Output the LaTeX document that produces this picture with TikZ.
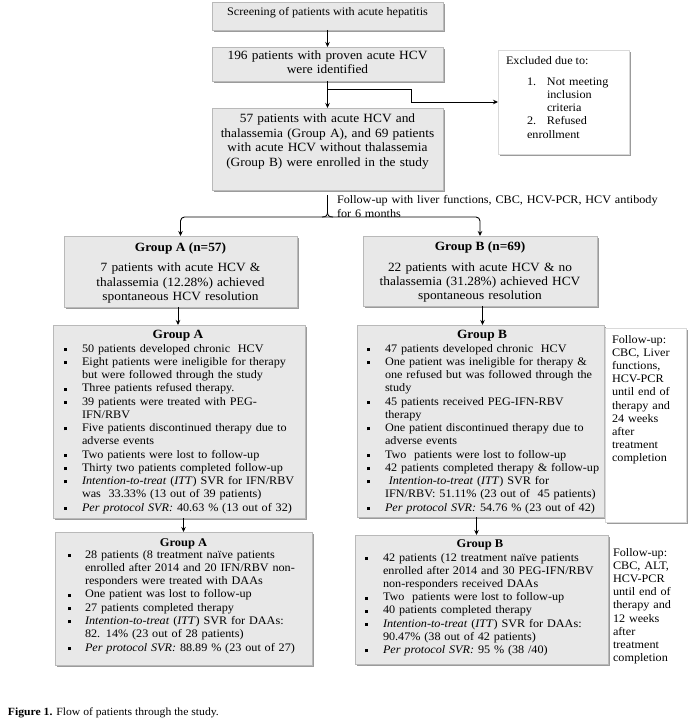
\documentclass[tikz,border=0pt]{standalone}
\usepackage{fontspec}
\setmainfont[FakeStretch=1.06]{Liberation Serif}
\usetikzlibrary{arrows.meta,shadows,calc}
\definecolor{boxfill}{RGB}{232,232,232}
\definecolor{boxline}{RGB}{185,185,185}
\definecolor{shadowc}{RGB}{130,130,130}
\newlength\bhang
\newcommand{\nl}{\hfil\break}
\newcommand{\bfirst}[1]{\noindent\hangindent=\bhang\hangafter=1\makebox[\bhang][l]{\rule[1.1pt]{3pt}{3pt}}#1}
\newcommand{\bitem}[1]{\par\bfirst{#1}}
\newcommand{\nfirst}[2]{\noindent\hangindent=\bhang\hangafter=1\makebox[\bhang][l]{#1}#2}
\newcommand{\nitem}[2]{\par\nfirst{#1}{#2}}
\tikzset{
  gbox/.style={draw=boxline, fill=boxfill, line width=0.5pt, inner sep=0pt, outer sep=0pt, anchor=north west,
    drop shadow={shadow xshift=1.6pt, shadow yshift=-1.6pt, fill=shadowc, opacity=0.8}},
  wbox/.style={gbox, fill=white, draw=gray!30},
  arr/.style={-{Stealth[length=5pt,width=4.5pt]}, line width=0.9pt, black},
  plain/.style={line width=0.9pt, black},
  txt/.style={inner sep=0pt, outer sep=0pt, anchor=base},
  ctxt/.style={inner sep=0pt, outer sep=0pt, anchor=base, align=center, text width=228pt},
  lst/.style={inner sep=0pt, outer sep=0pt, anchor=base west, text width=250pt},
  body/.style={font=\fontsize{11.5}{13.25}\selectfont},
  big/.style={font=\fontsize{12.6}{14.5}\selectfont},
}
\begin{document}
\begin{tikzpicture}[x=1pt,y=-1pt]
\useasboundingbox (0,0) rectangle (690,725);
% boxes
\node[gbox, minimum width=231pt, minimum height=28pt] (scr) at (212,2) {};
\node[gbox, minimum width=231pt, minimum height=34pt] (n196) at (212,47) {};
\node[wbox, minimum width=131pt, minimum height=104pt] (excl) at (498,50) {};
\node[gbox, minimum width=231pt, minimum height=82pt] (enr) at (212,108) {};
\node[gbox, minimum width=233pt, minimum height=71pt] (gA) at (64,236) {};
\node[gbox, minimum width=234pt, minimum height=70pt] (gB) at (363,236) {};
\node[gbox, minimum width=252pt, minimum height=193pt] (dA) at (53,325) {};
\node[gbox, minimum width=247pt, minimum height=192pt] (dB) at (357,325) {};
\node[wbox, minimum width=81pt, minimum height=194pt] (nB) at (605,328) {};
\node[gbox, minimum width=257pt, minimum height=133pt] (bA) at (55,532) {};
\node[gbox, minimum width=253pt, minimum height=129pt] (bB) at (355,535) {};

% top texts
\node[txt, body] (tscr) at (327.5,16) {Screening of patients with acute hepatitis};
\node[ctxt, font=\fontsize{12.6}{14}\selectfont] (t196) at (327.5,59.5) {196 patients with proven acute HCV\\were identified};
\node[ctxt, font=\fontsize{12.6}{14.6}\selectfont] (tenr) at (327.5,122.5) {57 patients with acute HCV and\\thalassemia (Group A), and 69 patients\\with acute HCV without thalassemia\\(Group B) were enrolled in the study};
\node[txt, body, anchor=base west] (texh) at (506,64.5) {Excluded due to:};
\node[lst, body, text width=100pt] (texl) at (527,85) {\setlength\bhang{20pt}%
\nfirst{1.}{Not meeting\nl inclusion\nl criteria}%
\nitem{2.}{Refused\nl enrollment}};
\node[lst, body, text width=340pt, font=\fontsize{11.5}{14}\selectfont] (tfu) at (337,203.5) {Follow-up with liver functions, CBC, HCV-PCR, HCV antibody\\for 6 months};

% group boxes
\node[txt, big] (tgAh) at (180.5,251) {\textbf{Group A (n=57)}};
\node[ctxt, big] (tgA) at (180.5,271.5) {7 patients with acute HCV \&\\thalassemia (12.28\%) achieved\\spontaneous HCV resolution};
\node[txt, big] (tgBh) at (480,250) {\textbf{Group B (n=69)}};
\node[ctxt, font=\fontsize{12.6}{14}\selectfont] (tgB) at (480,271) {22 patients with acute HCV \& no\\thalassemia (31.28\%) achieved HCV\\spontaneous resolution};

% detail A
\node[txt, big] (tdAh) at (178,338.5) {\textbf{Group A}};
\node[lst, body] (tdA) at (64,352) {\setlength\bhang{18pt}%
\bfirst{50 patients developed chronic~ HCV}%
\bitem{Eight patients were ineligible for therapy\nl but were followed through the study}%
\bitem{Three patients refused therapy.}%
\bitem{39 patients were treated with PEG-\nl IFN/RBV}%
\bitem{Five patients discontinued therapy due to\nl adverse events}%
\bitem{Two patients were lost to follow-up}%
\bitem{Thirty two patients completed follow-up}%
\bitem{\textit{Intention-to-treat} (\textit{ITT}) SVR for IFN/RBV\nl was~ 33.33\% (13 out of 39 patients)}%
\bitem{\textit{Per protocol SVR:} 40.63 \% (13 out of 32)}};

% detail B
\node[txt, big] (tdBh) at (482,338.5) {\textbf{Group B}};
\node[lst, body] (tdB) at (367,352) {\setlength\bhang{18pt}%
\bfirst{47 patients developed chronic~ HCV}%
\bitem{One patient was ineligible for therapy \&\nl one refused but was followed through the\nl study}%
\bitem{45 patients received PEG-IFN-RBV\nl therapy}%
\bitem{One patient discontinued therapy due to\nl adverse events}%
\bitem{Two~ patients were lost to follow-up}%
\bitem{42 patients completed therapy \& follow-up}%
\bitem{~\textit{Intention-to-treat} (\textit{ITT}) SVR for\nl IFN/RBV: 51.11\% (23 out of~ 45 patients)}%
\bitem{\textit{Per protocol SVR:} 54.76 \% (23 out of 42)}};
\node[lst, body, text width=75pt, font=\fontsize{11.5}{13.2}\selectfont] (tnB) at (612,343) {Follow-up:\\ CBC, Liver\\ functions,\\ HCV-PCR\\ until end of\\ therapy and\\ 24 weeks\\ after\\ treatment\\ completion};

% bottom A
\node[txt, font=\bfseries\fontsize{11.8}{13}\selectfont] (tbAh) at (183.5,546.5) {Group A};
\node[lst, font=\fontsize{11.5}{13.3}\selectfont] (tbA) at (68,558) {\setlength\bhang{17pt}%
\bfirst{28 patients (8 treatment naïve patients\nl enrolled after 2014 and 20 IFN/RBV non-\nl responders were treated with DAAs}%
\bitem{One patient was lost to follow-up}%
\bitem{27 patients completed therapy}%
\bitem{\textit{Intention-to-treat} (\textit{ITT}) SVR for DAAs:\nl 82. 14\% (23 out of 28 patients)}%
\bitem{\textit{Per protocol SVR:} 88.89 \% (23 out of 27)}};

% bottom B
\node[txt, font=\bfseries\fontsize{11.8}{13}\selectfont] (tbBh) at (480,547) {Group B};
\node[lst, font=\fontsize{11.5}{13.2}\selectfont] (tbB) at (365,561) {\setlength\bhang{18pt}%
\bfirst{42 patients (12 treatment naïve patients\nl enrolled after 2014 and 30 PEG-IFN/RBV\nl non-responders received DAAs}%
\bitem{Two~ patients were lost to follow-up}%
\bitem{40 patients completed therapy}%
\bitem{\textit{Intention-to-treat} (\textit{ITT}) SVR for DAAs:\nl 90.47\% (38 out of 42 patients)}%
\bitem{\textit{Per protocol SVR:} 95 \% (38 /40)}};
\node[lst, text width=75pt, font=\fontsize{11.5}{13.2}\selectfont] (tbn) at (613,556) {Follow-up:\\ CBC, ALT,\\ HCV-PCR\\ until end of\\ therapy and\\ 12 weeks\\ after\\ treatment\\ completion};

% caption
\node[txt, anchor=base west, font=\fontsize{11}{13}\selectfont] (tcap) at (8,715) {\textbf{Figure 1.} Flow of patients through the study.};

% connectors
\draw[arr] (scr) -- (n196);
\draw[arr] (n196) -- (enr);
\coordinate (br1) at (327.5,89);
\coordinate (br2) at (411,89);
\draw[plain] (br1) -- (br2);
\draw[arr] (br2) |- (excl.west);
\coordinate (bt) at (327.5,195);
\coordinate (bm) at (327.5,217);
\draw[line width=0.8pt] (bt) -- (327.5,212) .. controls (327.5,215.5) and (326,217) .. (322,217);
\draw[line width=0.8pt] (327.5,212) .. controls (327.5,215.5) and (329,217) .. (333,217);
\draw[arr, rounded corners=4pt] (bm) -| (gA.north);
\draw[arr, rounded corners=4pt] (bm) -| (gB.north);
\draw[arr] ($(gA.south)+(-2.5,0)$) -- ($(gA.south |- dA.north)+(-2.5,0)$);
\draw[arr] ($(gB.south)+(2.5,0)$) -- ($(gB.south |- dB.north)+(2.5,0)$);
\draw[arr] (bA.north |- dA.south) -- (bA.north);
\draw[arr] ($(dB.south)+(-4,0)$) -- ($(dB.south |- bB.north)+(-4,0)$);
\end{tikzpicture}
\end{document}
